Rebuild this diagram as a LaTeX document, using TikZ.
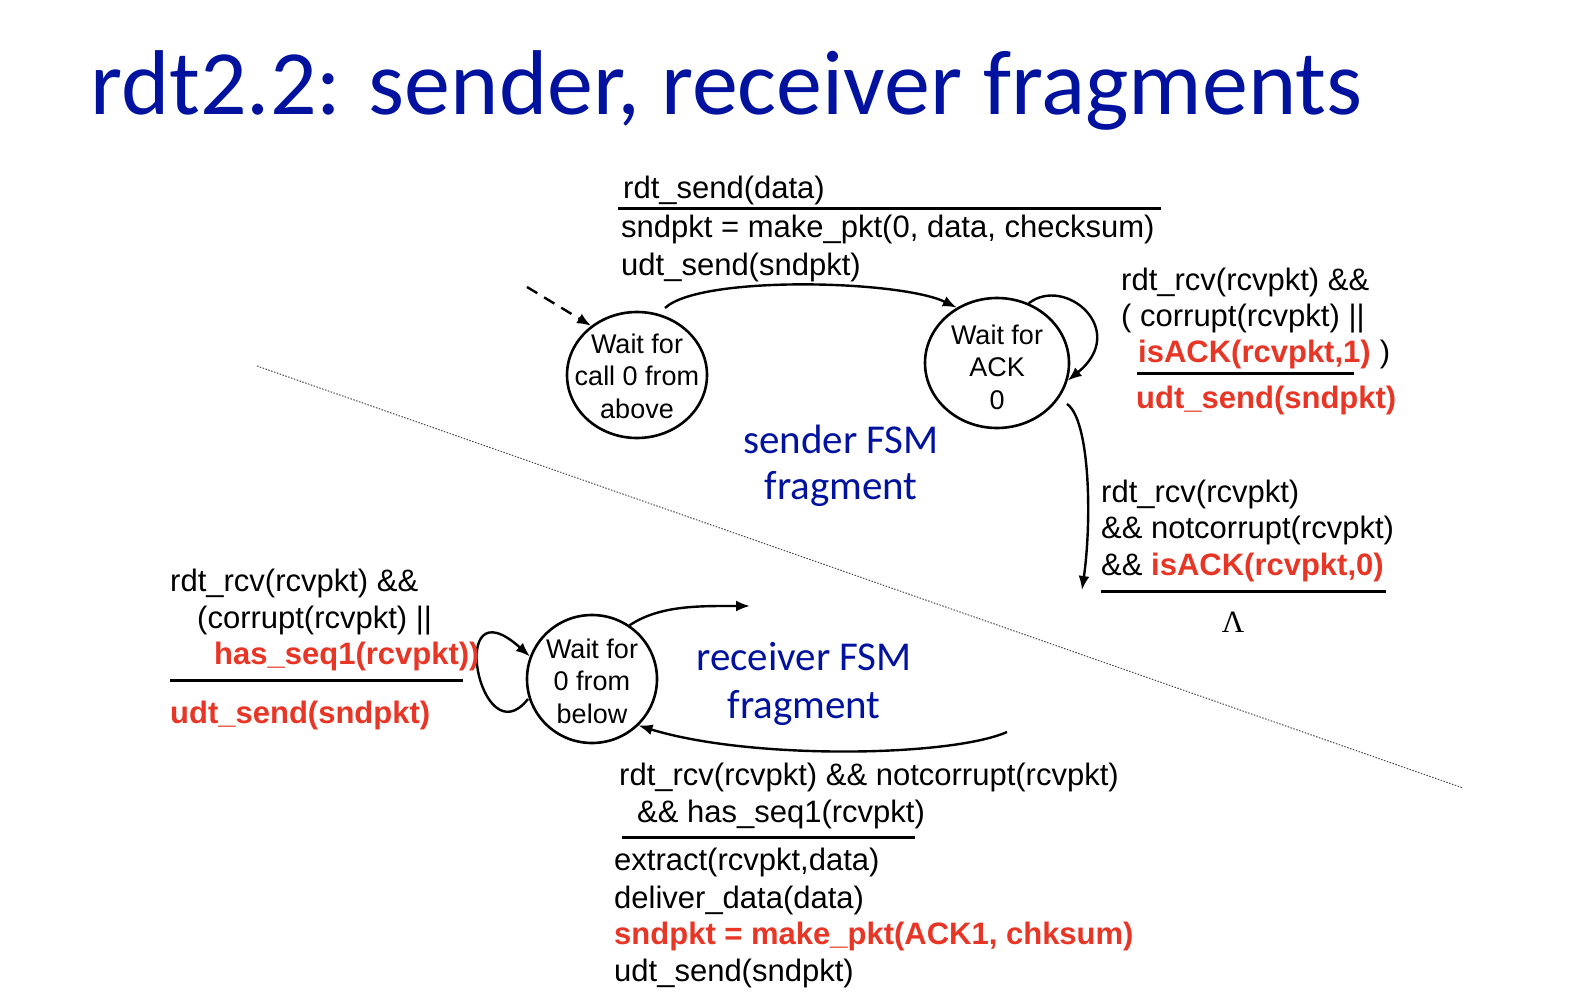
\documentclass[tikz,border=0pt]{standalone}
\usepackage{fontspec}
\setmainfont{Liberation Sans}
\newfontfamily\calib{Carlito}
\newfontfamily\serifL{Liberation Serif}
\usetikzlibrary{arrows.meta,shapes.geometric}
\definecolor{slideblue}{RGB}{0,18,158}
\definecolor{hotred}{RGB}{232,54,38}

\begin{document}
\begin{tikzpicture}[x=1pt,y=-1pt,
  lbl/.style={anchor=base west,inner sep=0pt,font=\fontsize{31}{38}\selectfont},
  hot/.style={lbl,text=hotred,font=\fontsize{31}{38}\selectfont\bfseries},
  state/.style={draw,ellipse,line width=2.6pt,inner sep=0pt},
  stext/.style={align=center,inner sep=0pt,font=\fontsize{27}{32.5}\selectfont},
  fsm/.style={anchor=base,inner sep=0pt,text=slideblue,font=\calib\fontsize{41}{46}\selectfont},
  edge/.style={line width=2.4pt,-{Latex[length=14pt,width=11pt]}},
  rulebar/.style={line width=3pt},
  divider/.style={black!70,line width=1pt,dash pattern=on 1.5pt off 1.5pt},
]
\useasboundingbox[fill=white] (0,0) rectangle (1570,1006);

% title
\node[anchor=base west,inner sep=0pt,text=slideblue,font=\calib\fontsize{92}{100}\selectfont]
  (title) at (90,114) {rdt2.2: sender, receiver fragments};

% dividing line between sender and receiver
\coordinate (divA) at (257,366);
\coordinate (divB) at (1463,788);
\draw[divider] (divA) -- (divB);

% states
\node[state,minimum width=140pt,minimum height=126pt] (w1) at (637,375) {};
\node[stext] (w1t) at (637,376) {Wait for\\call 0 from\\above};
\node[state,minimum width=144pt,minimum height=130pt] (w2) at (997,363) {};
\node[stext] (w2t) at (997,367) {Wait for\\ACK\\0};
\node[state,minimum width=130pt,minimum height=128pt] (w3) at (592,679) {};
\node[stext] (w3t) at (592,681) {Wait for\\0 from\\below};

% sender transitions
\coordinate (init) at (527,287);
\draw[edge,dash pattern=on 12pt off 8pt] (init) -- (w1.133);
\coordinate (w1out) at (665,308);
\draw[edge] (w1out) .. controls (700,275) and (900,280) .. (w2.126);
\draw[edge] (w2.62) .. controls (1065,275) and (1130,330) .. (w2.-14);
\coordinate (w2out) at (1067,404);
\coordinate (ackdown) at (1082,590);
\draw[edge] (w2out) .. controls (1090,420) and (1092,520) .. (ackdown);

% receiver transitions
\coordinate (w3loop) at (528,699);
\draw[edge] (w3loop) .. controls (480,760) and (445,580) .. (w3.160);
\coordinate (rxout) at (750,606);
\draw[edge] (w3.55) .. controls (660,605) and (700,606) .. (rxout);
\coordinate (rxin) at (1007,732);
\draw[edge] (rxin) .. controls (950,757) and (750,760) .. (w3.-45);

% sender: call 0 -> wait for ACK 0
\node[lbl] (t1) at (623,198) {rdt\_send(data)};
\draw[rulebar] (618,208) -- (1161,208);
\node[lbl] (t2) at (621,237) {sndpkt = make\_pkt(0, data, checksum)};
\node[lbl] (t3) at (621,275) {udt\_send(sndpkt)};

% sender: self loop on wait for ACK 0
\node[lbl] (a1) at (1121,290) {rdt\_rcv(rcvpkt) \&\&};
\node[lbl] (a2) at (1121,326) {( corrupt(rcvpkt) ||};
\node[hot] (a3) at (1138,362) {isACK(rcvpkt,1)};
\node[lbl] (a3p) at (a3.base east) {\ )};
\draw[rulebar] (1137,373) -- (1354,373);
\node[hot] (a4) at (1136,408) {udt\_send(sndpkt)};

% sender: ACK 0 received
\node[lbl] (b1) at (1101,502) {rdt\_rcv(rcvpkt)};
\node[lbl] (b2) at (1101,538) {\&\& notcorrupt(rcvpkt)};
\node[lbl] (b3) at (1101,575) {\&\& \textcolor{hotred}{\bfseries isACK(rcvpkt,0)}};
\draw[rulebar] (1101,591) -- (1386,591);
\node[anchor=base,inner sep=0pt,font=\serifL\fontsize{31}{38}\selectfont] (lam) at (1233,632) {Λ};

% receiver: self loop
\node[lbl] (c1) at (170,591) {rdt\_rcv(rcvpkt) \&\&};
\node[lbl] (c2) at (197,628) {(corrupt(rcvpkt) ||};
\node[hot] (c3) at (214,664) {has\_seq1(rcvpkt))};
\draw[rulebar] (170,680) -- (463,680);
\node[hot] (c4) at (170,723) {udt\_send(sndpkt)};

% receiver: good packet with seq 1
\node[lbl] (r1) at (619,785) {rdt\_rcv(rcvpkt) \&\& notcorrupt(rcvpkt)};
\node[lbl] (r2) at (637,822) {\&\& has\_seq1(rcvpkt)};
\draw[rulebar] (622,837) -- (915,837);
\node[lbl] (r3) at (614,870) {extract(rcvpkt,data)};
\node[lbl] (r4) at (614,908) {deliver\_data(data)};
\node[hot] (r5) at (614,944) {sndpkt = make\_pkt(ACK1, chksum)};
\node[lbl] (r6) at (614,981) {udt\_send(sndpkt)};

% FSM captions
\node[fsm] (sf1) at (841,453) {sender FSM};
\node[fsm] (sf2) at (841,499) {fragment};
\node[fsm] (rf1) at (804,670) {receiver FSM};
\node[fsm] (rf2) at (804,718) {fragment};
\end{tikzpicture}
\end{document}
